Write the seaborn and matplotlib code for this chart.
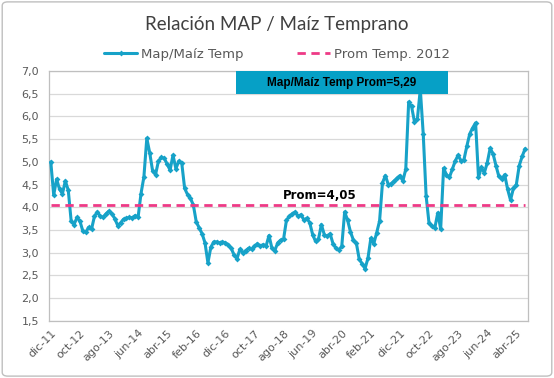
import numpy as np
import pandas as pd
import matplotlib
matplotlib.use("Agg")
import matplotlib.pyplot as plt
import seaborn as sns
from matplotlib.patches import FancyBboxPatch, Rectangle
from matplotlib.ticker import FuncFormatter


# =========================================
# DATA (monthly, dic-11 .. jul-25)
# =========================================

map_maiz = [
    5.00, 4.27, 4.62, 4.40, 4.30, 4.58, 4.38, 3.70, 3.62, 3.78,
    3.70, 3.48, 3.45, 3.56, 3.52, 3.80, 3.90, 3.80, 3.78, 3.86,
    3.92, 3.86, 3.75, 3.60, 3.66, 3.74, 3.76, 3.78, 3.77, 3.82,
    3.78, 4.30, 4.67, 5.52, 5.20, 4.80, 4.72, 5.02, 5.10, 5.08,
    4.95, 4.82, 5.15, 4.85, 5.02, 4.98, 4.42, 4.28, 4.20, 4.05,
    3.68, 3.55, 3.42, 3.22, 2.78, 3.12, 3.24, 3.24, 3.22, 3.24,
    3.22, 3.18, 3.10, 2.95, 2.87, 3.08, 3.00, 3.05, 3.10, 3.08,
    3.14, 3.20, 3.15, 3.18, 3.15, 3.38, 3.10, 3.05, 3.22, 3.28,
    3.30, 3.72, 3.80, 3.86, 3.90, 3.80, 3.84, 3.72, 3.76, 3.66,
    3.40, 3.25, 3.30, 3.62, 3.40, 3.36, 3.42, 3.20, 3.10, 3.06,
    3.14, 3.90, 3.72, 3.46, 3.28, 3.22, 2.86, 2.76, 2.65, 2.88,
    3.32, 3.20, 3.44, 3.70, 4.54, 4.70, 4.50, 4.52, 4.58, 4.64,
    4.70, 4.58, 4.84, 6.32, 6.22, 5.88, 5.95, 6.60, 5.62, 4.25,
    3.65, 3.58, 3.55, 3.88, 3.52, 4.86, 4.72, 4.66, 4.84, 5.02,
    5.15, 5.02, 5.05, 5.35, 5.62, 5.75, 5.86, 4.66, 4.88, 4.76,
    4.98, 5.30, 5.18, 4.92, 4.68, 4.62, 4.72, 4.40, 4.16, 4.42,
    4.50, 4.92, 5.12, 5.29,
]

prom_2012 = 4.05

tick_labels = ["dic-11", "oct-12", "ago-13", "jun-14", "abr-15", "feb-16",
               "dic-16", "oct-17", "ago-18", "jun-19", "abr-20", "feb-21",
               "dic-21", "oct-22", "ago-23", "jun-24", "abr-25"]

df = pd.DataFrame({"mes": np.arange(len(map_maiz)), "ratio": map_maiz})
df["prom"] = prom_2012


# =========================================
# STYLE
# =========================================

sns.set_style("white")
plt.rcParams["font.family"] = ["DejaVu Sans"]

line_color = "#17a2c8"
pink = "#ee3a86"
gray_txt = "#595959"
grid_col = "#d9d9d9"


# =========================================
# PLOT
# =========================================

fig = plt.figure(figsize=(5.54, 3.78), dpi=100)
ax = fig.add_axes([0.088, 0.151, 0.865, 0.661])

sns.lineplot(data=df, x="mes", y="ratio", ax=ax, color=line_color,
             linewidth=2.2, marker="D", markersize=3, markeredgewidth=0,
             label="Map/Maíz Temp", zorder=3)
sns.lineplot(data=df, x="mes", y="prom", ax=ax, color=pink,
             linewidth=2.0, dashes=(3, 2), label="Prom Temp. 2012", zorder=4)

ax.set_xlim(-0.7, 164)
ax.set_ylim(1.5, 7.0)
ax.set_yticks(np.arange(1.5, 7.01, 0.5))
ax.yaxis.set_major_formatter(FuncFormatter(lambda v, p: f"{v:.1f}".replace(".", ",")))
ax.set_xticks(np.arange(0, 161, 10))
ax.set_xticklabels(tick_labels, rotation=45, ha="right", rotation_mode="anchor")

ax.grid(axis="y", color=grid_col, linewidth=0.9)
ax.set_axisbelow(True)
ax.set_xlabel("")
ax.set_ylabel("")
for s in ax.spines.values():
    s.set_color("#bfbfbf")
    s.set_linewidth(0.9)
ax.tick_params(axis="both", colors="#bfbfbf", labelcolor=gray_txt,
               labelsize=8, length=4, width=0.9, direction="out")
ax.tick_params(axis="y", pad=3)
ax.tick_params(axis="x", pad=1)

# annotation box
ax.add_patch(Rectangle((0.39, 0.908), 0.443, 0.092, transform=ax.transAxes,
                       facecolor="#06a0c6", edgecolor="none", zorder=5))
ax.text(0.611, 0.954, "Map/Maíz Temp Prom=5,29", transform=ax.transAxes,
        ha="center", va="center", fontsize=8.5, fontweight="bold",
        family=["Liberation Sans"], color="black", zorder=6)

ax.text(92.5, 4.12, "Prom=4,05", ha="center", va="bottom", fontsize=8.5,
        fontweight="bold", color="black", zorder=6)

# legend
handles, labels = ax.get_legend_handles_labels()
ax.legend_.remove()
fig.legend(handles, labels, loc="center", bbox_to_anchor=(0.5, 0.857), ncol=2,
           frameon=False, fontsize=9.5, handlelength=2.5, columnspacing=4,
           handletextpad=0.3, labelcolor=gray_txt)

fig.text(0.5, 0.935, "Relación MAP / Maíz Temprano", ha="center", va="center",
         fontsize=13.5, family=["Lato"], color="#404040")

# outer border
fig.patches.append(FancyBboxPatch((0.004, 0.005), 0.992, 0.99,
                                  boxstyle="round,pad=0,rounding_size=0.01",
                                  transform=fig.transFigure, fill=False,
                                  edgecolor="#bfbfbf", linewidth=1))

fig.savefig("out.png", dpi=100)
